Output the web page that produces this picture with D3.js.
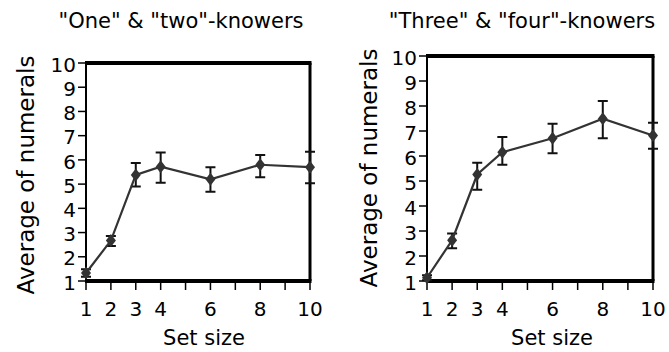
<!DOCTYPE html>
<html>
<head>
<meta charset="utf-8">
<script src="https://cdn.jsdelivr.net/npm/d3@7"></script>
<style>
  body { margin: 0; background: #fff; }
  svg { display: block; font-family: "DejaVu Sans", Verdana, sans-serif; }
</style>
</head>
<body>
<svg id="chart" width="669" height="352"></svg>
<script>
// set sizes shown on the x axis
let setSizes = [1, 2, 3, 4, 6, 8, 10]
let xTickLabels = [1, 2, 3, 4, 6, 8, 10]
let yTicks = [1, 2, 3, 4, 5, 6, 7, 8, 9, 10]

// "One" & "two"-knowers
let lowMean = [1.33, 2.67, 5.38, 5.72, 5.2, 5.8, 5.7]
let lowLo = [1.18, 2.45, 4.9, 5.06, 4.68, 5.28, 5.04]
let lowHi = [1.48, 2.86, 5.87, 6.3, 5.7, 6.2, 6.34]

// "Three" & "four"-knowers
let highMean = [1.13, 2.63, 5.26, 6.15, 6.71, 7.49, 6.82]
let highLo = [1.03, 2.31, 4.65, 5.65, 6.11, 6.71, 6.29]
let highHi = [1.23, 2.9, 5.73, 6.76, 7.29, 8.2, 7.33]

let svg = d3.select("#chart")

// tiny stand-in for d3-selection-multi's .attrs
d3.selection.prototype.attrs = function (map) {
  for (let k in map) this.attr(k, map[k])
  return this
}

function draw_panel(opts) {
  let x = d3.scaleLinear().domain([1, 10]).range([opts.left, opts.right])
  let y = d3.scaleLinear().domain([1, 10]).range([opts.bottom, opts.top])
  let g = svg.append("g")

  let rows = setSizes.map((s, i) => ({ s: s, m: opts.mean[i], lo: opts.lo[i], hi: opts.hi[i] }))

  // y axis ticks + labels
  g.selectAll(".ytick")
    .data(yTicks).enter()
    .append("line")
    .attrs({ x1: opts.left - 8, x2: opts.left, y1: d => y(d), y2: d => y(d), stroke: "#000", "stroke-width": 1.5 })
  g.selectAll(".ylab")
    .data(yTicks).enter()
    .append("text")
    .attrs({ x: opts.left - 10, y: d => y(d) + 1.5, dy: "0.36em", "text-anchor": "end", "font-size": 20 })
    .text(d => d)

  // x axis ticks at every integer, labels only at the set sizes
  g.selectAll(".xtick")
    .data(d3.range(1, 11)).enter()
    .append("line")
    .attrs({ x1: d => x(d), x2: d => x(d), y1: opts.bottom, y2: opts.bottom + 9, stroke: "#000", "stroke-width": 1.5 })
  g.selectAll(".xlab")
    .data(xTickLabels).enter()
    .append("text")
    .attrs({ x: d => x(d), y: 316, "text-anchor": "middle", "font-size": 20 })
    .text(d => d)

  // frame: thin left, thicker right, heavy top and bottom
  g.append("line").attrs({ x1: opts.left, x2: opts.left, y1: opts.top, y2: opts.bottom, stroke: "#000", "stroke-width": 2 })
  g.append("line").attrs({ x1: opts.right, x2: opts.right, y1: opts.top, y2: opts.bottom, stroke: "#000", "stroke-width": 3 })
  g.append("line").attrs({ x1: opts.left - 1, x2: opts.right + 1.5, y1: opts.top, y2: opts.top, stroke: "#000", "stroke-width": 4 })
  g.append("line").attrs({ x1: opts.left - 1, x2: opts.right + 1.5, y1: opts.bottom, y2: opts.bottom, stroke: "#000", "stroke-width": 4 })

  // error bars
  g.selectAll(".err")
    .data(rows).enter()
    .append("path")
    .attrs({
      d: d => `M${x(d.s) - 5},${y(d.hi)}H${x(d.s) + 5}M${x(d.s)},${y(d.hi)}V${y(d.lo)}M${x(d.s) - 5},${y(d.lo)}H${x(d.s) + 5}`,
      fill: "none", stroke: "#111", "stroke-width": 2
    })

  // mean line
  g.append("path")
    .datum(rows)
    .attrs({
      d: d3.line().x(d => x(d.s)).y(d => y(d.m)),
      fill: "none", stroke: "#333", "stroke-width": 2.2
    })

  // diamond markers
  g.selectAll(".pt")
    .data(rows).enter()
    .append("path")
    .attrs({
      d: d => `M${x(d.s)},${y(d.m) - 6.5}L${x(d.s) + 5},${y(d.m)}L${x(d.s)},${y(d.m) + 6.5}L${x(d.s) - 5},${y(d.m)}Z`,
      fill: "#333"
    })

  // titles
  g.append("text")
    .attrs({ x: opts.titleX, y: 28, "text-anchor": "middle", "font-size": 21 })
    .text(opts.title)
  g.append("text")
    .attrs({ x: opts.xlabX, y: 345, "text-anchor": "middle", "font-size": 21 })
    .text("Set size")
  g.append("text")
    .attrs({ transform: `translate(${opts.ylabX},${opts.ylabY}) rotate(-90)`, "text-anchor": "middle", "font-size": 23 })
    .text("Average of numerals")
}

draw_panel({
  left: 86, right: 310, top: 63, bottom: 281,
  mean: lowMean, lo: lowLo, hi: lowHi,
  title: "\"One\" & \"two\"-knowers", titleX: 181,
  xlabX: 204, ylabX: 34, ylabY: 175
})

draw_panel({
  left: 427, right: 653, top: 56, bottom: 281,
  mean: highMean, lo: highLo, hi: highHi,
  title: "\"Three\" & \"four\"-knowers", titleX: 522,
  xlabX: 552, ylabX: 377, ylabY: 168
})
</script>
</body>
</html>
